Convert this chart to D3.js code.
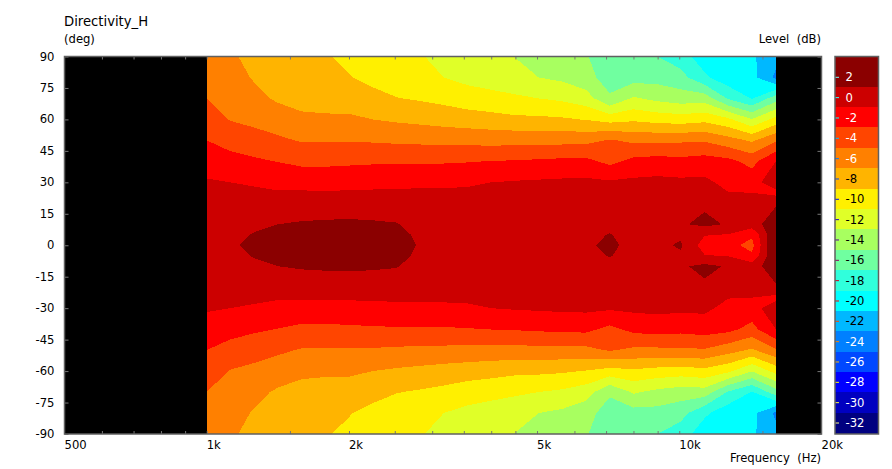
<!DOCTYPE html>
<html><head><meta charset="utf-8">
<script src="https://cdn.jsdelivr.net/npm/d3@7"></script>
<style>
html,body{margin:0;padding:0;background:#fff}
svg{display:block}
text{font-family:"DejaVu Sans",sans-serif;font-size:11.6px;fill:#000}
</style></head><body>
<svg id="c" width="892" height="469"></svg>
<script>
// frequency columns, 1/6 octave from 1 kHz to 16 kHz
const freqs = [1000,1122,1260,1414,1587,1782,2000,2245,2520,2828,3175,3564,4000,4490,5040,5657,6350,7127,8000,8980,10079,11314,12699,14254,16000];
// level in dB at each |angle| (mirrored about 0 deg)
const angles = [0,5,10,20,25,30,40,50,60,70,80,90];
const a0  = [0.3,0.75,1.4,1.6,1.7,1.9,1.95,1.85,1.75,0.85,0.55,0.5,0.45,0.4,0.4,0.4,0.7,1.4,0.4,0.65,1.2,-1.94,-2.4,-3.6,3.5];
const a5  = [0.2,0.55,1.1,1.35,1.5,1.7,1.75,1.65,1.55,0.65,0.4,0.35,0.3,0.3,0.3,0.35,0.45,1.1,0.3,0.3,0.75,-0.9,-1.1,-2.7,3];
const a10 = [0.1,0.3,0.7,1.0,1.2,1.3,1.35,1.25,1.1,0.3,0.15,0.15,0.15,0.15,0.15,0.2,0.25,0.4,0.15,0.2,0.75,1.5,0.8,0,2.4];
const a20 = [-0.2,-0.3,-0.3,-0.2,-0.15,-0.1,-0.05,-0.08,-0.1,-0.35,-0.4,-0.35,-0.3,-0.25,-0.2,-0.15,-0.1,0,-0.15,-0.05,0,0.65,0.1,0.1,0.7];
const a25 = [-0.5,-0.65,-0.7,-0.85,-0.8,-0.85,-0.8,-0.75,-0.7,-0.75,-0.8,-0.75,-0.6,-0.5,-0.45,-0.4,-0.35,-0.3,-0.35,-0.25,-0.3,-0.1,-0.95,-1,-1.6];
const a30 = [-0.8,-1.0,-1.2,-1.5,-1.66,-1.7,-1.6,-1.55,-1.45,-1.35,-1.25,-1.2,-1.0,-0.85,-0.75,-0.65,-0.6,-0.75,-0.6,-0.5,-0.6,-0.6,-1.55,-1.8,0.2];
const a40 = [-1.9,-2.38,-2.7,-3.05,-3.45,-3.45,-3.35,-3.25,-3.18,-3.23,-3.2,-3.1,-2.95,-2.85,-2.7,-2.55,-2.5,-3.5,-2.45,-2.2,-2.4,-2.1,-2.45,-3.65,-1];
const a50 = [-3,-3.66,-4.2,-4.65,-5.15,-5.15,-5.15,-5.2,-5.35,-5.43,-5.5,-5.58,-5.69,-5.65,-5.6,-5.6,-5.55,-4.83,-5.4,-5.4,-5.3,-5.2,-6.2,-7.3,-5.3];
const a60 = [-4,-5.1,-5.5,-6.05,-6.5,-6.6,-6.7,-7,-7.28,-7.52,-7.8,-8.05,-8.25,-8.55,-8.6,-8.75,-9.1,-9.75,-9.35,-9.75,-10,-9.6,-10.6,-12.9,-10.3];
const a70 = [-5,-5.7,-6.5,-7.25,-7.8,-8,-7.83,-8.37,-8.93,-9.2,-9.55,-10.05,-10.4,-10.75,-11,-11.35,-12.1,-14.7,-12.75,-13.5,-14,-13.9,-17.2,-19.1,-15.9];
const a80 = [-5.9,-6.3,-7.15,-7.5,-8,-8.5,-8.9,-9.55,-10,-10.3,-11,-11.55,-11.85,-12,-13,-13.4,-14.3,-15.9,-15.8,-15.7,-16.3,-18.6,-20.3,-20.4,-23.4];
const a90 = [-6.6,-6.85,-7.3,-7.8,-8.3,-8.85,-9.4,-9.8,-10.2,-10.85,-11.6,-12.3,-12.6,-13.05,-13.9,-14.3,-14.85,-16.3,-16.6,-17,-18,-20.2,-20.3,-20.7,-22.3];
const halfRows = [a0,a5,a10,a20,a25,a30,a40,a50,a60,a70,a80,a90];

// colour bands: centre level and fill
const bandLevels = [2,0,-2,-4,-6,-8,-10,-12,-14,-16,-18,-20,-22,-24,-26,-28,-30,-32];
const bandColors = ["#8b0000","#cc0000","#ff0000","#ff4500","#ff8000","#ffb400","#fff000","#e0ff28","#a8ff60","#70ffa0","#30ffdc","#00ffff","#00b8ff","#0080ff","#0048ff","#0000ff","#0000c0","#000080"];
const bandLabelDark = [0,0,0,0,0,1,1,1,1,1,1,1,1,0,0,0,0,0];

const yTicks = [90,75,60,45,30,15,0,-15,-30,-45,-60,-75,-90];
const xMinor = [600,700,800,900,1000,1500,2000,2500,3000,3500,4000,4500,5000,6000,7000,8000,9000,10000,15000];
const xLabelValues = [500,1000,2000,5000,10000,20000];
const xLabelText = ["500","1k","2k","5k","10k","20k"];

const L=64.5,R=821.5,T=56.5,B=434, CL=835,CR=878.5;
const svg=d3.select("#c");
const x=d3.scaleLog().domain([500,20000]).range([L,R]);
const y=d3.scaleLinear().domain([90,-90]).range([T,B]);
const cy=d3.scaleLinear().domain([3.96,-33.08]).range([T,B]);

// full grid, top row = +90
const gridAngles=[...angles.slice().reverse(),...angles.slice(1).map(a=>-a)];
const gridRows=[...halfRows.slice().reverse(),...halfRows.slice(1)];
const nx=freqs.length, ny=gridAngles.length;
const values=gridRows.flat();

const colToFreq=d3.scaleLinear().domain(d3.range(nx)).range(freqs.map(f=>Math.log10(f))).clamp(true);
const rowToAngle=d3.scaleLinear().domain(d3.range(ny)).range(gridAngles).clamp(true);
const px=c=>x(Math.pow(10,colToFreq(c-0.5)));
const py=r=>y(rowToAngle(r-0.5));

svg.append("rect").attr("x",L).attr("y",T).attr("width",R-L).attr("height",B-T).attr("fill","#000");

const thresholds=bandLevels.map(l=>l-1).reverse();
const colors=bandColors.slice().reverse();
const contours=d3.contours().size([nx,ny]).thresholds(thresholds).smooth(true)(values);
const toPath=g=>g.coordinates.map(poly=>poly.map(ring=>"M"+ring.map(p=>px(p[0]).toFixed(2)+","+py(p[1]).toFixed(2)).join("L")+"Z").join("")).join("");
// contour fills are drawn without anti-aliasing, as in the original plot
svg.append("g").attr("shape-rendering","crispEdges").selectAll("path").data(contours).join("path")
  .attr("d",toPath).attr("fill",(d,i)=>colors[i]).attr("fill-rule","evenodd");

// axes: ticks on all four sides, pointing inwards
const tickCol="#777";
function style(g){g.select(".domain").remove();g.selectAll("line").attr("stroke",tickCol);g.selectAll("text").remove();}
svg.append("g").attr("transform",`translate(0,${T})`).call(d3.axisTop(x).tickValues(xMinor).tickSize(-3).tickFormat("")).call(style);
svg.append("g").attr("transform",`translate(0,${B})`).call(d3.axisBottom(x).tickValues(xMinor).tickSize(-3).tickFormat("")).call(style);
svg.append("g").attr("transform",`translate(${L},0)`).call(d3.axisLeft(y).tickValues(yTicks).tickSize(-4).tickFormat("")).call(style);
svg.append("g").attr("transform",`translate(${R},0)`).call(d3.axisRight(y).tickValues(yTicks).tickSize(-4).tickFormat("")).call(style);
svg.append("rect").attr("x",L).attr("y",T).attr("width",R-L).attr("height",B-T).attr("fill","none").attr("stroke","#606060").attr("stroke-width",1.5);

svg.append("g").selectAll("text").data(yTicks).join("text")
  .attr("x",54.5).attr("y",d=>y(d)+0.5).attr("text-anchor","end").attr("dominant-baseline","middle").text(d=>d);
svg.append("g").selectAll("text").data(xLabelValues).join("text")
  .attr("x",d=>x(d)).attr("y",449).text((d,i)=>xLabelText[i]);

svg.append("text").attr("x",64).attr("y",26).text("Directivity_H").style("font-size","13.2px");
svg.append("text").attr("x",64).attr("y",43).text("(deg)");
svg.append("text").attr("x",821).attr("y",43).attr("text-anchor","end").style("white-space","pre").text("Level  (dB)");
svg.append("text").attr("x",821).attr("y",462).attr("text-anchor","end").style("white-space","pre").text("Frequency  (Hz)");

// colour bar
const bar=svg.append("g");
bar.selectAll("rect").data(bandLevels).join("rect")
  .attr("x",CL).attr("width",CR-CL).attr("shape-rendering","crispEdges")
  .attr("y",(d,i)=>i===0?T:cy(d+1))
  .attr("height",(d,i)=>(i===bandLevels.length-1?B:cy(d-1))-(i===0?T:cy(d+1)))
  .attr("fill",(d,i)=>bandColors[i]);
const invert=c=>{const r=d3.rgb(c);return d3.rgb(255-r.r,255-r.g,255-r.b).formatHex();};
const barTick=d3.scaleLinear().domain([2,-32]).range([77.3,423]);
bar.append("g").selectAll("line").data(bandLevels).join("line")
  .attr("x1",CL).attr("x2",CL+4).attr("y1",d=>barTick(d)).attr("y2",d=>barTick(d))
  .attr("stroke",(d,i)=>invert(bandColors[i]));
bar.append("g").selectAll("text").data(bandLevels).join("text")
  .attr("x",845.5).attr("y",d=>barTick(d)+0.5).attr("dominant-baseline","middle")
  .style("fill",(d,i)=>bandLabelDark[i]?"#000":"#fff").text(d=>d);
svg.append("rect").attr("x",CL).attr("y",T).attr("width",CR-CL).attr("height",B-T).attr("fill","none").attr("stroke","#606060").attr("stroke-width",1.5);
</script>
</body></html>
